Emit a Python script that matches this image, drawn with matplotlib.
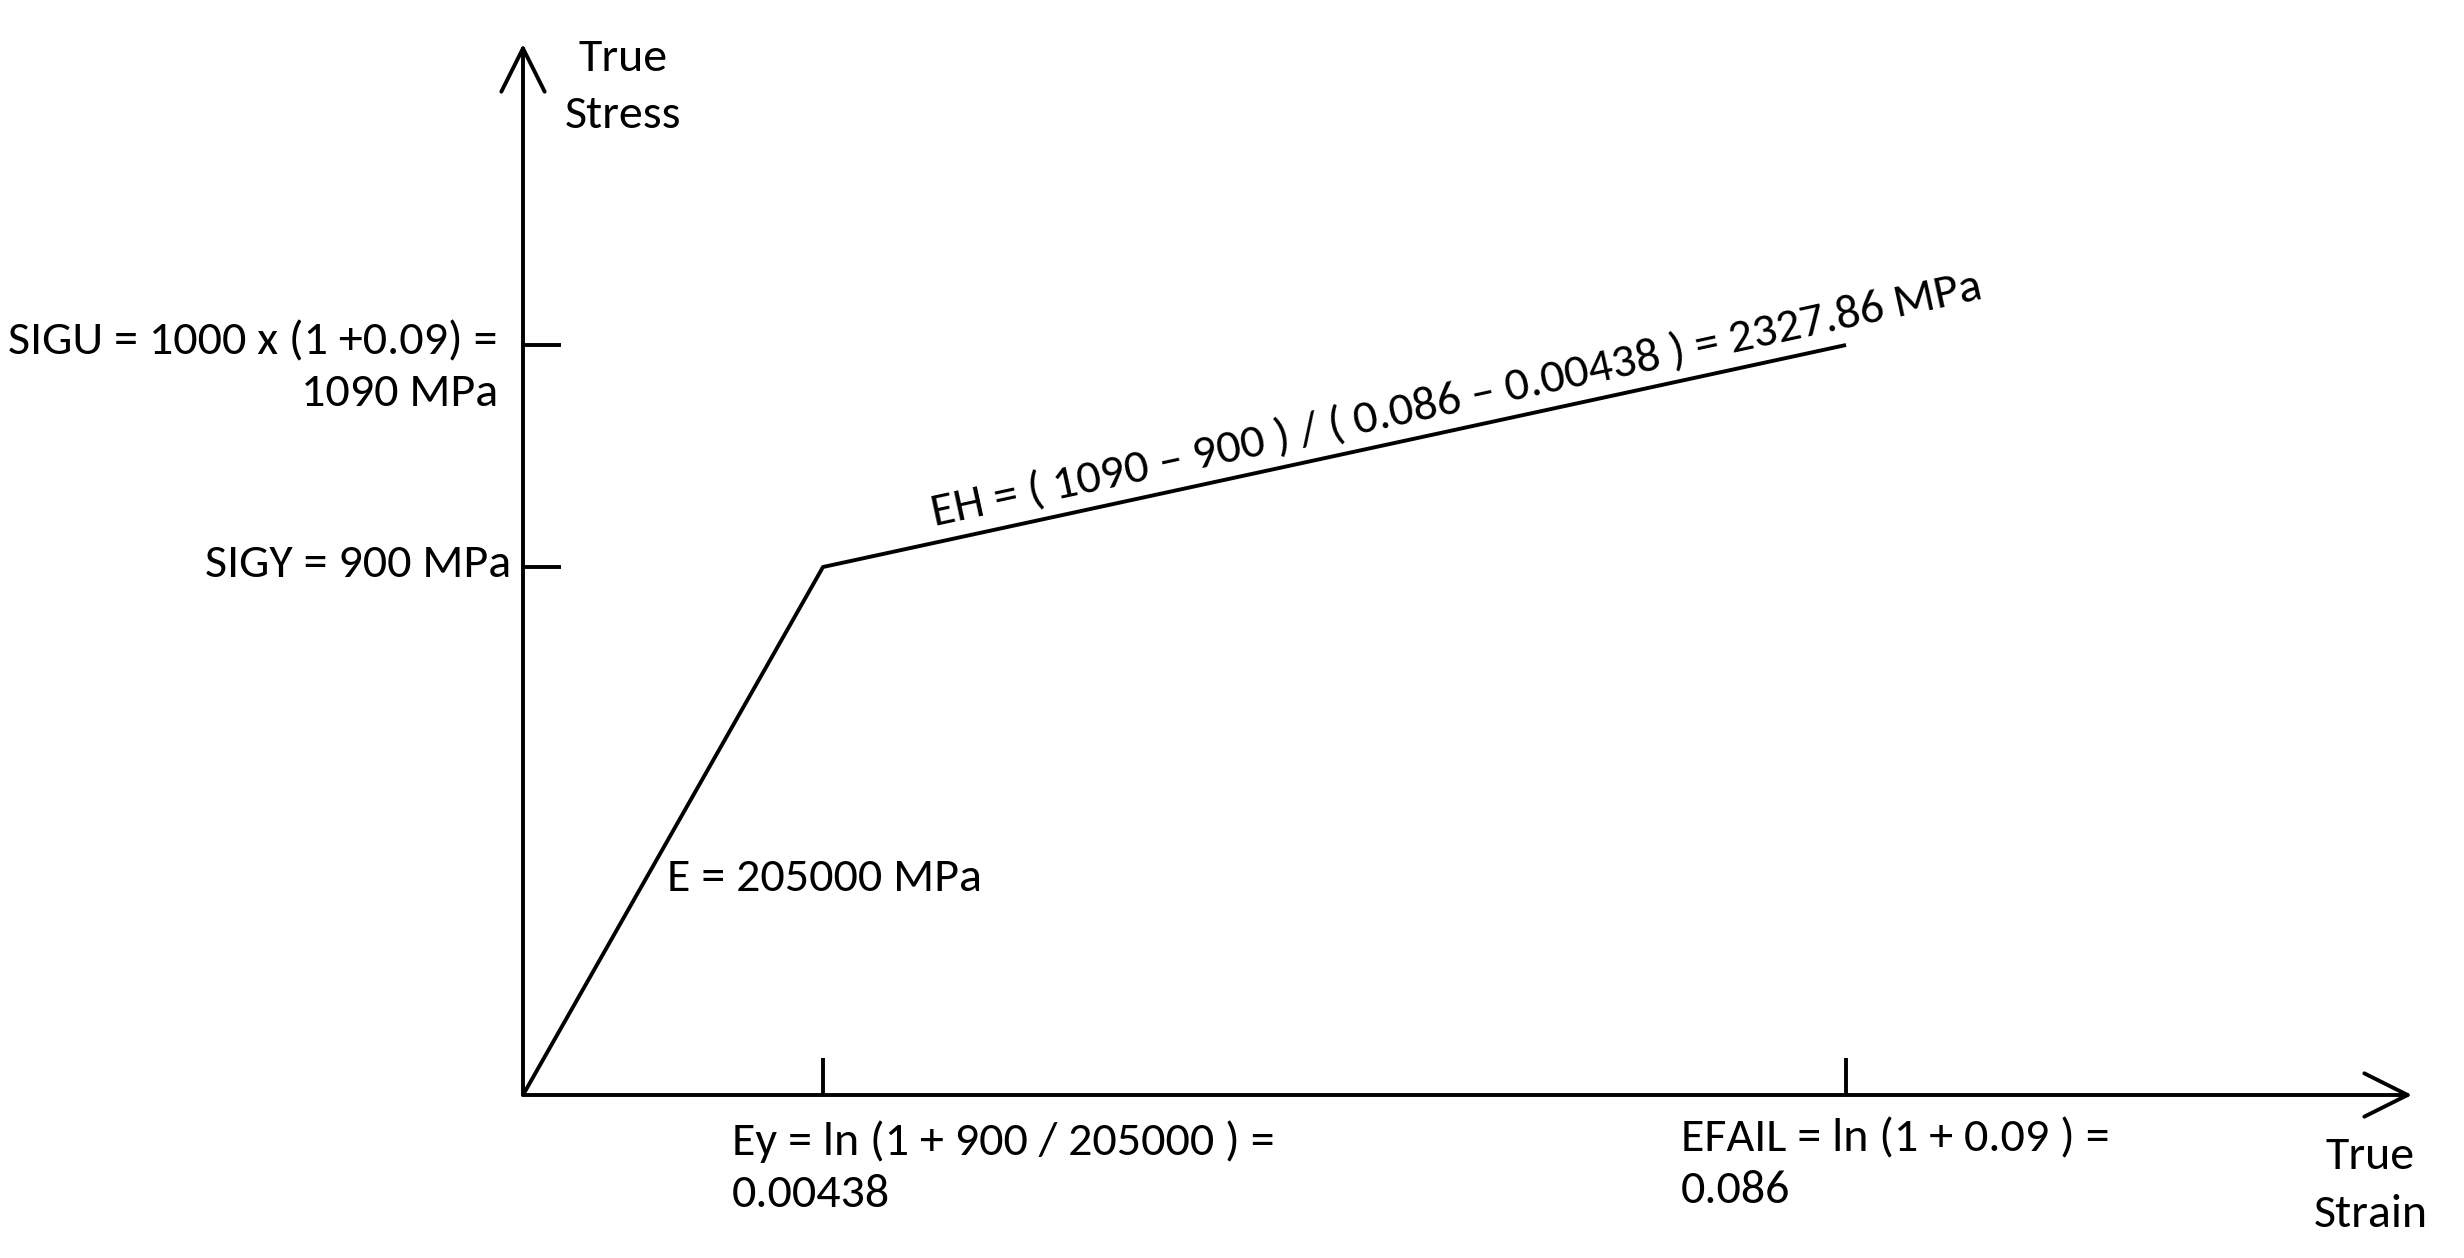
import numpy as np
import matplotlib.pyplot as plt
from matplotlib import font_manager

# ==== data (bilinear true stress - true strain) ====
strain = [0.0, 0.00438, 0.086]
stress = [0.0, 900.0, 1090.0]
strain_ticks = [0.00438, 0.086]
stress_ticks = [900.0, 1090.0]

# schematic, not to scale: spacing of the axis break points (pixels from origin)
strain_breaks = [0.0, 0.00438, 0.086, 0.1312]
strain_spacing = [0, 300, 1323, 1889]
stress_breaks = [0.0, 900.0, 1090.0, 1348.0]
stress_spacing = [0, 528, 750, 1051]

label_sigu = "SIGU = 1000 x (1 +0.09) =\n1090 MPa"
label_sigy = "SIGY = 900 MPa"
label_ey = "Ey = ln (1 + 900 / 205000 ) =\n0.00438"
label_efail = "EFAIL = ln (1 + 0.09 ) =\n0.086"
label_e = "E = 205000 MPa"
label_eh = "EH = ( 1090 \u2013 900 ) / ( 0.086 \u2013 0.00438 ) = 2327.86 MPa"


def piecewise(breaks, spacing):
    b = np.asarray(breaks, float)
    s = np.asarray(spacing, float)

    def _map(v, src, dst):
        v = np.asarray(v, float)
        out = np.interp(v, src, dst)
        lo = v < src[0]
        hi = v > src[-1]
        out = np.where(lo, dst[0] + (v - src[0]) * (dst[1] - dst[0]) / (src[1] - src[0]), out)
        out = np.where(hi, dst[-1] + (v - src[-1]) * (dst[-1] - dst[-2]) / (src[-1] - src[-2]), out)
        return out

    return (lambda v: _map(v, b, s)), (lambda p: _map(p, s, b))


# narrow Calibri-like face if there is one
names = {f.name for f in font_manager.fontManager.ttflist}
family = 'Roboto'
for cand in ['Carlito', 'Liberation Sans Narrow', 'Roboto Condensed', 'Open Sans Condensed',
             'Noto Sans Condensed', 'Arial Narrow']:
    if cand in names:
        family = cand
        break
plt.rcParams['font.family'] = [family, 'DejaVu Sans']
lw = 2.8

fig = plt.figure(figsize=(24.64, 12.58), dpi=100)

# size the font so "SIGY = 900 MPa" is as wide as in the picture (~306 px)
renderer = fig.canvas.get_renderer()
tmp = fig.text(0, 0, label_sigy, fontsize=34)
w = tmp.get_window_extent(renderer).width
tmp.remove()
fs = 34 * 306 / w

ax = fig.add_axes([523 / 2464, 163 / 1258, 1889 / 2464, 1051 / 1258])

ax.set_xscale('function', functions=piecewise(strain_breaks, strain_spacing))
ax.set_yscale('function', functions=piecewise(stress_breaks, stress_spacing))
ax.set_xlim(0, strain_breaks[-1])
ax.set_ylim(0, stress_breaks[-1])

for sp in ax.spines.values():
    sp.set_visible(False)

# axes with open arrow heads
arrow = dict(arrowstyle='->', lw=lw, color='black', mutation_scale=78, shrinkA=0, shrinkB=0)
ax.annotate('', xy=(0, stress_breaks[-1]), xytext=(0, 0), arrowprops=arrow, annotation_clip=False)
ax.annotate('', xy=(strain_breaks[-1], 0), xytext=(0, 0), arrowprops=arrow, annotation_clip=False)

# curve
ax.plot(strain, stress, color='black', lw=lw, clip_on=False, solid_capstyle='butt')

# ticks
ax.set_xticks(strain_ticks)
ax.set_yticks(stress_ticks)
ax.set_xticklabels([])
ax.set_yticklabels([])
ax.minorticks_off()
ax.tick_params(direction='in', length=27, width=lw, color='black')

# tick texts
ax.annotate(label_sigu, xy=(0, stress_ticks[1]), xytext=(-18, -16.5), textcoords='offset points',
            ha='right', va='center', multialignment='right', fontsize=fs, linespacing=1.32,
            annotation_clip=False)
ax.annotate(label_sigy, xy=(0, stress_ticks[0]), xytext=(-8.6, 2), textcoords='offset points',
            ha='right', va='center', fontsize=fs, annotation_clip=False)
ax.annotate(label_ey, xy=(strain_ticks[0], 0), xytext=(-65.5, -52), textcoords='offset points',
            ha='left', va='center', multialignment='left', fontsize=fs, linespacing=1.33,
            annotation_clip=False)
ax.annotate(label_efail, xy=(strain_ticks[1], 0), xytext=(-119, -50), textcoords='offset points',
            ha='left', va='center', multialignment='left', fontsize=fs, linespacing=1.33,
            annotation_clip=False)

# axis titles
ax.annotate("True\nStress", xy=(0, stress_breaks[-1]), xytext=(72, -31), textcoords='offset points',
            ha='center', va='center', fontsize=fs, linespacing=1.5, annotation_clip=False)
ax.annotate("True\nStrain", xy=(strain_breaks[-1], 0), xytext=(-30, -65), textcoords='offset points',
            ha='center', va='center', fontsize=fs, linespacing=1.5, annotation_clip=False)

# modulus labels
f = 0.41
ax.annotate(label_e, xy=(strain[1] * f, stress[1] * f), xytext=(15, 0), textcoords='offset points',
            ha='left', va='center', fontsize=fs)

p0 = ax.transData.transform((strain[1], stress[1]))
p1 = ax.transData.transform((strain[2], stress[2]))
ang = np.degrees(np.arctan2(p1[1] - p0[1], p1[0] - p0[0]))
g = 0.625
xm = strain[1] + g * (strain[2] - strain[1])
ym = stress[1] + g * (stress[2] - stress[1])
d = 6
ax.annotate(label_eh, xy=(xm, ym),
            xytext=(-d * np.sin(np.radians(ang)), d * np.cos(np.radians(ang))),
            textcoords='offset points', ha='center', va='bottom',
            rotation=ang, rotation_mode='anchor', fontsize=fs)

plt.savefig("out.png", dpi=100)
